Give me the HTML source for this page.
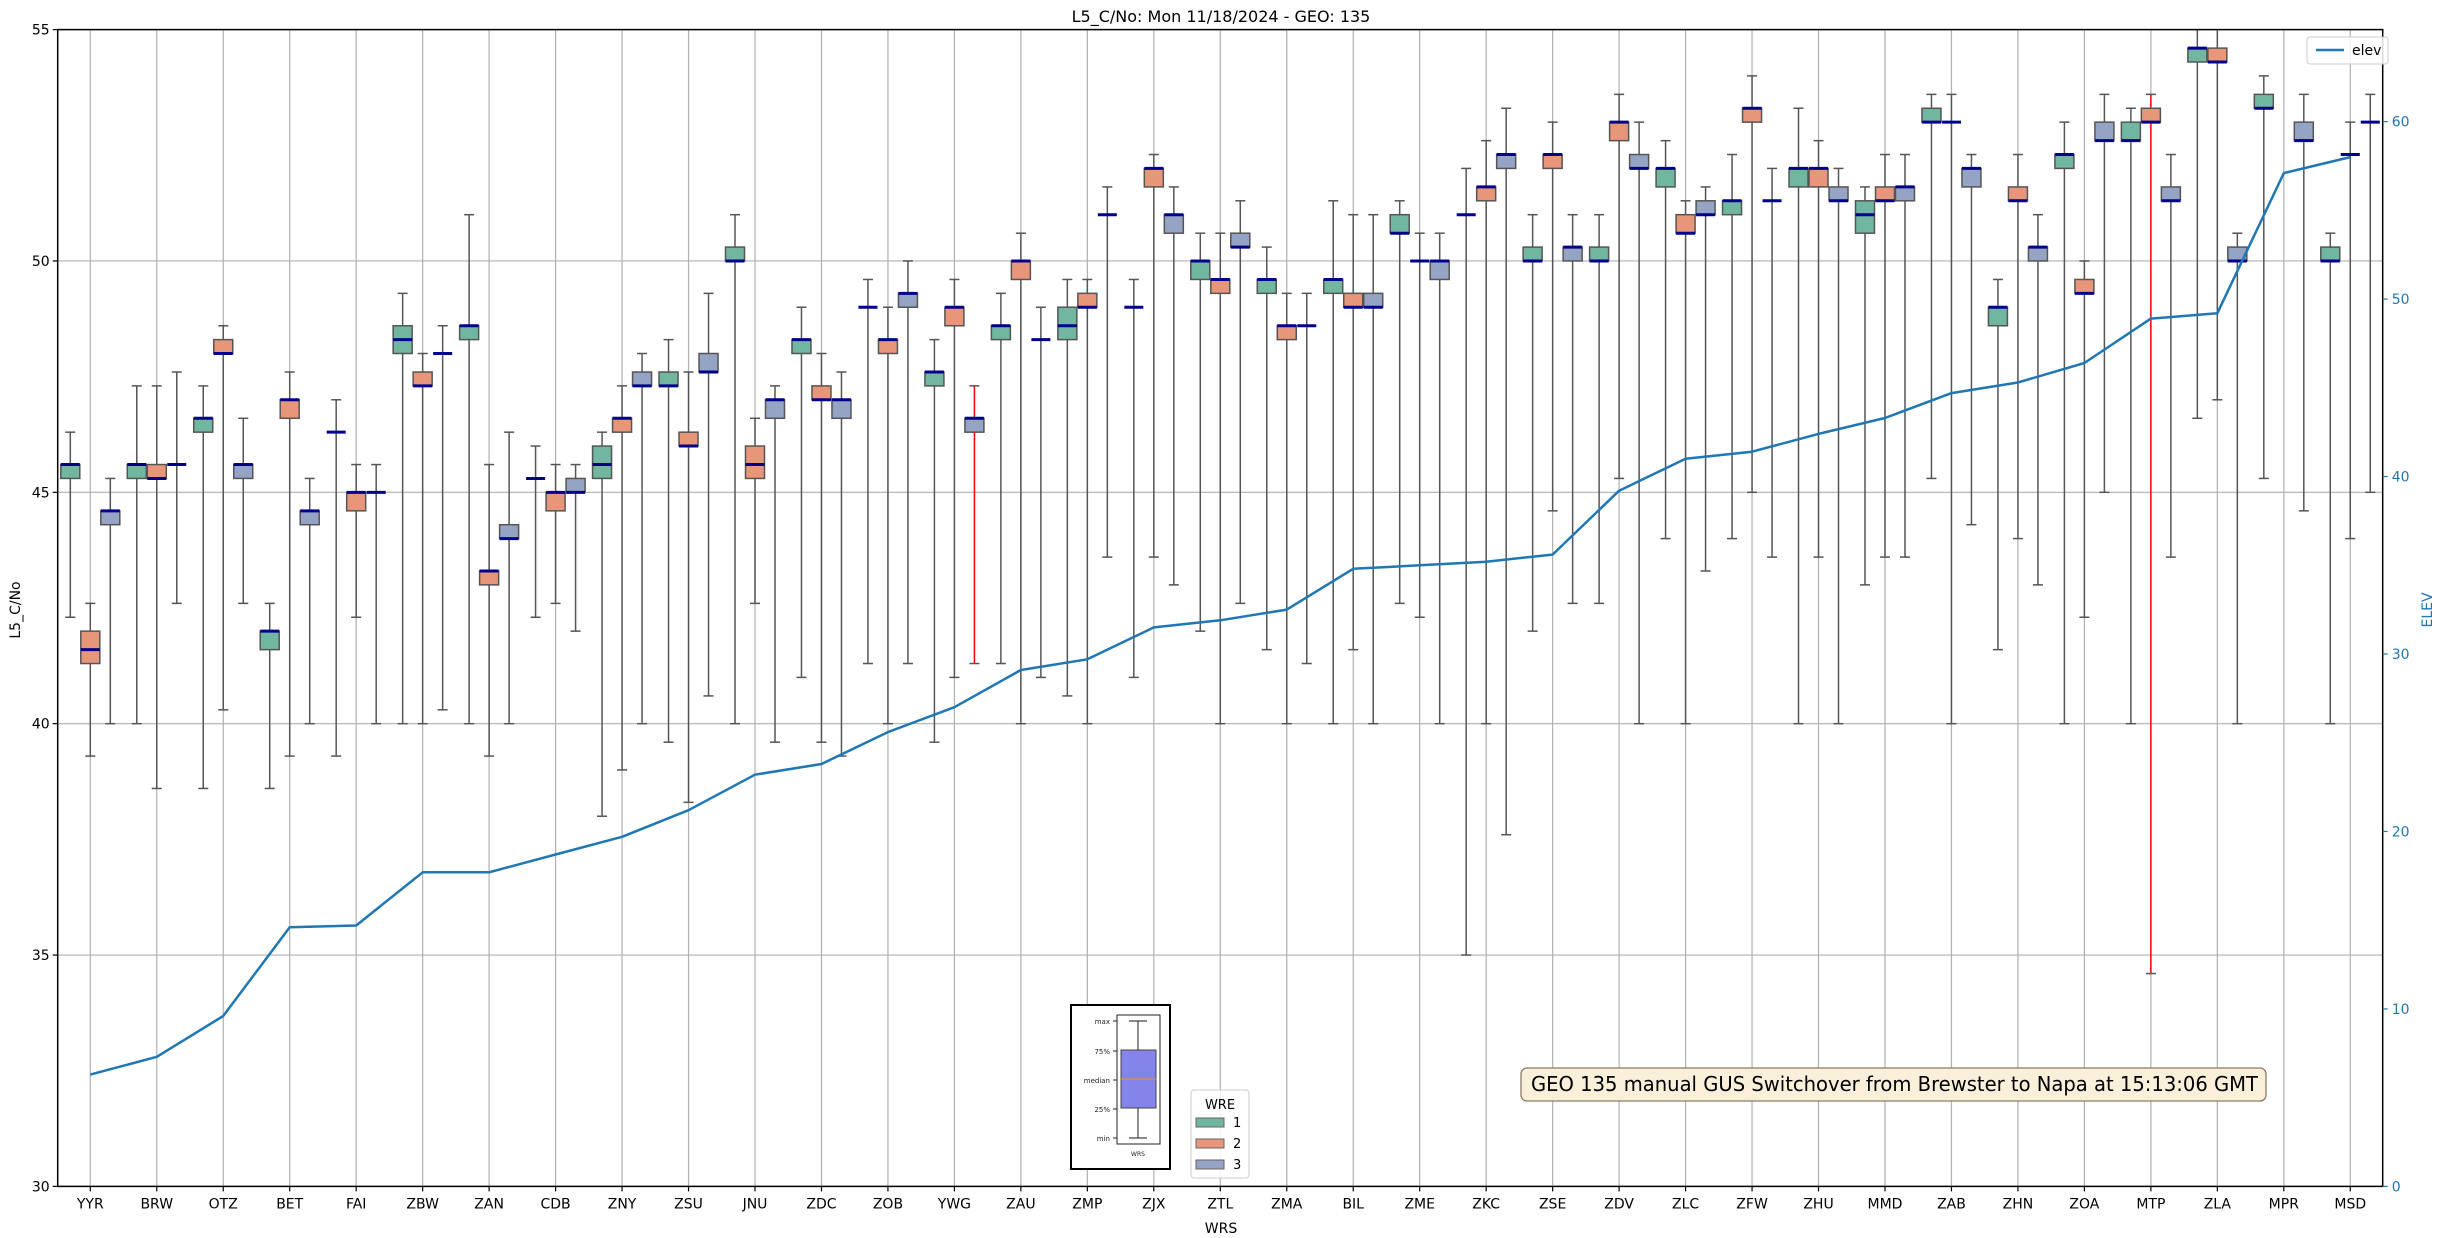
<!DOCTYPE html>
<html><head><meta charset="utf-8"><style>
html,body{margin:0;padding:0;background:#fff}
svg{display:block;font-family:"DejaVu Sans","Liberation Sans",sans-serif}
</style></head><body>
<svg id="chart" width="2439" height="1238" viewBox="0 0 2439 1238" xmlns="http://www.w3.org/2000/svg">
<rect width="2439" height="1238" fill="#fff"/>
<g id="grid"></g>
<g id="marks"></g>
<g id="elevg"></g>
<rect x="57.7" y="29.6" width="2325" height="1156.8" fill="none" stroke="#000" stroke-width="1.5"/>
<g id="axes"></g>
<text x="1221" y="22" font-size="16" text-anchor="middle">L5_C/No: Mon 11/18/2024 - GEO: 135</text>
<text x="1221" y="1233" font-size="14" text-anchor="middle">WRS</text>
<text x="0" y="0" font-size="14" text-anchor="middle" transform="translate(20,610) rotate(-90)">L5_C/No</text>
<text x="0" y="0" font-size="14" fill="#1f77b4" text-anchor="middle" transform="translate(2432,610) rotate(-90)">ELEV</text>
<g>
<rect x="2307" y="37" width="81" height="27" rx="3" fill="#fff" fill-opacity="0.85" stroke="#ccc"/>
<line x1="2316" y1="50" x2="2344" y2="50" stroke="#1f77b4" stroke-width="2.5"/>
<text x="2352" y="55" font-size="14">elev</text>
</g>
<g>
<rect x="1521" y="1068" width="745" height="33" rx="6" fill="#faefd9" stroke="#8a7a66" stroke-width="1.3"/>
<text x="1531" y="1091" font-size="20" textLength="727" lengthAdjust="spacingAndGlyphs">GEO 135 manual GUS Switchover from Brewster to Napa at 15:13:06 GMT</text>
</g>
<g>
<rect x="1071" y="1005" width="99" height="164" fill="#fff" stroke="#000" stroke-width="2"/>
<rect x="1117" y="1015" width="43" height="129" fill="#fff" stroke="#222" stroke-width="1"/>
<g font-size="7" text-anchor="end" fill="#222">
<text x="1110" y="1024">max</text><text x="1110" y="1054">75%</text><text x="1110" y="1083">median</text><text x="1110" y="1112">25%</text><text x="1110" y="1141">min</text>
</g>
<g stroke="#222" stroke-width="1"><line x1="1113" y1="1021" x2="1117" y2="1021"/><line x1="1113" y1="1051" x2="1117" y2="1051"/><line x1="1113" y1="1080" x2="1117" y2="1080"/><line x1="1113" y1="1109" x2="1117" y2="1109"/><line x1="1113" y1="1138" x2="1117" y2="1138"/></g>
<line x1="1138" y1="1021" x2="1138" y2="1138" stroke="#444" stroke-width="1.2"/>
<line x1="1129" y1="1021" x2="1147" y2="1021" stroke="#444" stroke-width="1.2"/>
<line x1="1129" y1="1138" x2="1147" y2="1138" stroke="#444" stroke-width="1.2"/>
<rect x="1121" y="1050" width="35" height="58" fill="#8484ea" stroke="#444" stroke-width="1"/>
<line x1="1121" y1="1079" x2="1156" y2="1079" stroke="#ff8c1a" stroke-width="1"/>
<text x="1138" y="1156" font-size="6" text-anchor="middle" fill="#222">WRS</text>
</g>
<g>
<rect x="1191" y="1090" width="58" height="88" rx="3" fill="#fff" fill-opacity="0.85" stroke="#ccc"/>
<text x="1220" y="1109" font-size="13" text-anchor="middle">WRE</text>
<rect x="1196" y="1118" width="28" height="9" fill="#70b6a0" stroke="#666"/>
<text x="1233" y="1127" font-size="13">1</text>
<rect x="1196" y="1139" width="28" height="9" fill="#e8967a" stroke="#666"/>
<text x="1233" y="1148" font-size="13">2</text>
<rect x="1196" y="1160" width="28" height="9" fill="#95a3c4" stroke="#666"/>
<text x="1233" y="1169" font-size="13">3</text>
</g>
</svg>
<script>
const categories = ["YYR","BRW","OTZ","BET","FAI","ZBW","ZAN","CDB","ZNY","ZSU","JNU","ZDC","ZOB","YWG","ZAU","ZMP","ZJX","ZTL","ZMA","BIL","ZME","ZKC","ZSE","ZDV","ZLC","ZFW","ZHU","MMD","ZAB","ZHN","ZOA","MTP","ZLA","MPR","MSD"];
const elev = [6.3,7.3,9.6,14.6,14.7,17.7,17.7,18.7,19.7,21.2,23.2,23.8,25.6,27.0,29.1,29.7,31.5,31.9,32.5,34.8,35.0,35.2,35.6,39.2,41.0,41.4,42.4,43.3,44.7,45.3,46.4,48.9,49.2,57.1,58.0];
const leftTicks = [30,35,40,45,50,55];
const rightTicks = [0,10,20,30,40,50,60];
// per WRE: [whiskerLow, q1, median, q3, whiskerHigh]
const wre1 = [[42.3,45.3,45.6,45.6,46.3],[40,45.3,45.6,45.6,47.3],[38.6,46.3,46.6,46.6,47.3],[38.6,41.6,42.0,42.0,42.6],[39.3,46.3,46.3,46.3,47.0],[40,48.0,48.3,48.6,49.3],[40,48.3,48.6,48.6,51.0],[42.3,45.3,45.3,45.3,46.0],[38.0,45.3,45.6,46.0,46.3],[39.6,47.3,47.3,47.6,48.3],[40,50.0,50.0,50.3,51.0],[41.0,48.0,48.3,48.3,49.0],[41.3,49.0,49.0,49.0,49.6],[39.6,47.3,47.6,47.6,48.3],[41.3,48.3,48.6,48.6,49.3],[40.6,48.3,48.6,49.0,49.6],[41.0,49.0,49.0,49.0,49.6],[42.0,49.6,50.0,50.0,50.6],[41.6,49.3,49.6,49.6,50.3],[40,49.3,49.6,49.6,51.3],[42.6,50.6,50.6,51.0,51.3],[35.0,51.0,51.0,51.0,52.0],[42.0,50.0,50.0,50.3,51.0],[42.6,50.0,50.0,50.3,51.0],[44.0,51.6,52.0,52.0,52.6],[44.0,51.0,51.3,51.3,52.3],[40,51.6,52.0,52.0,53.3],[43.0,50.6,51.0,51.3,51.6],[45.3,53.0,53.0,53.3,53.6],[41.6,48.6,49.0,49.0,49.6],[40,52.0,52.3,52.3,53.0],[40,52.6,52.6,53.0,53.3],[46.6,54.3,54.6,54.6,55.5],[45.3,53.3,53.3,53.6,54.0],[40,50.0,50.0,50.3,50.6]];
const wre2 = [[39.3,41.3,41.6,42.0,42.6],[38.6,45.3,45.3,45.6,47.3],[40.3,48.0,48.0,48.3,48.6],[39.3,46.6,47.0,47.0,47.6],[42.3,44.6,45.0,45.0,45.6],[40,47.3,47.3,47.6,48.0],[39.3,43.0,43.3,43.3,45.6],[42.6,44.6,45.0,45.0,45.6],[39.0,46.3,46.6,46.6,47.3],[38.3,46.0,46.0,46.3,47.6],[42.6,45.3,45.6,46.0,46.6],[39.6,47.0,47.0,47.3,48.0],[40,48.0,48.3,48.3,49.0],[41.0,48.6,49.0,49.0,49.6],[40,49.6,50.0,50.0,50.6],[40,49.0,49.0,49.3,49.6],[43.6,51.6,52.0,52.0,52.3],[40,49.3,49.6,49.6,50.6],[40,48.3,48.6,48.6,49.3],[41.6,49.0,49.0,49.3,51.0],[42.3,50.0,50.0,50.0,50.6],[40,51.3,51.6,51.6,52.6],[44.6,52.0,52.3,52.3,53.0],[45.3,52.6,53.0,53.0,53.6],[40,50.6,50.6,51.0,51.3],[45.0,53.0,53.3,53.3,54.0],[43.6,51.6,52.0,52.0,52.6],[43.6,51.3,51.3,51.6,52.3],[40,53.0,53.0,53.0,53.6],[44.0,51.3,51.3,51.6,52.3],[42.3,49.3,49.3,49.6,50.0],[34.6,53.0,53.0,53.3,53.6],[47.0,54.3,54.3,54.6,55.5],null,[44.0,52.3,52.3,52.3,53.0]];
const wre3 = [[40,44.3,44.6,44.6,45.3],[42.6,45.6,45.6,45.6,47.6],[42.6,45.3,45.6,45.6,46.6],[40,44.3,44.6,44.6,45.3],[40,45.0,45.0,45.0,45.6],[40.3,48.0,48.0,48.0,48.6],[40,44.0,44.0,44.3,46.3],[42.0,45.0,45.0,45.3,45.6],[40,47.3,47.3,47.6,48.0],[40.6,47.6,47.6,48.0,49.3],[39.6,46.6,47.0,47.0,47.3],[39.3,46.6,47.0,47.0,47.6],[41.3,49.0,49.3,49.3,50.0],[41.3,46.3,46.6,46.6,47.3],[41.0,48.3,48.3,48.3,49.0],[43.6,51.0,51.0,51.0,51.6],[43.0,50.6,51.0,51.0,51.6],[42.6,50.3,50.3,50.6,51.3],[41.3,48.6,48.6,48.6,49.3],[40,49.0,49.0,49.3,51.0],[40,49.6,50.0,50.0,50.6],[37.6,52.0,52.3,52.3,53.3],[42.6,50.0,50.3,50.3,51.0],[40,52.0,52.0,52.3,53.0],[43.3,51.0,51.0,51.3,51.6],[43.6,51.3,51.3,51.3,52.0],[40,51.3,51.3,51.6,52.0],[43.6,51.3,51.6,51.6,52.3],[44.3,51.6,52.0,52.0,52.3],[43.0,50.0,50.3,50.3,51.0],[45.0,52.6,52.6,53.0,53.6],[43.6,51.3,51.3,51.6,52.3],[40,50.0,50.0,50.3,50.6],[44.6,52.6,52.6,53.0,53.6],[45.0,53.0,53.0,53.0,53.6]];
const redWhiskers = [[2,31],[3,13]];

const NS="http://www.w3.org/2000/svg";
const X0=90.3, DX=66.47, PT=29.6, PB=1186.4, PL=57.7, PR=2382.7;
function xCat(i){return X0+DX*i;}
function yL(v){return PT+(55-v)*(PB-PT)/25;}
function yR(e){return PB-e*(PB-120)/60*0.9985;}
function cy(y){return Math.max(PT,Math.min(PB,y));}
function mk(tag,attrs,parent){const e=document.createElementNS(NS,tag);for(const k in attrs)e.setAttribute(k,attrs[k]);parent.appendChild(e);return e;}
const grid=document.getElementById('grid'), marks=document.getElementById('marks'), axes=document.getElementById('axes'), eg=document.getElementById('elevg');

leftTicks.forEach(v=>{
  const l=mk('line',{x1:PL,x2:PR,y1:yL(v),y2:yL(v),stroke:'#b0b0b0','stroke-width':1.2},grid);
  
  
  mk('line',{x1:PL-5,x2:PL,y1:yL(v),y2:yL(v),stroke:'#000','stroke-width':1.2},axes);
  const t=mk('text',{x:PL-8,y:yL(v)+5,'font-size':14,'text-anchor':'end'},axes);
  t.textContent=v;
  
  
});
rightTicks.forEach(v=>{
  mk('line',{x1:PR,x2:PR+5,y1:yR(v),y2:yR(v),stroke:'#1f77b4','stroke-width':1.2},axes);
  const t=mk('text',{x:PR+9,y:yR(v)+5,'font-size':14,fill:'#1f77b4'},axes);
  t.textContent=v;
  
  
});
categories.forEach((c,i)=>{
  const l=mk('line',{x1:xCat(i),x2:xCat(i),y1:PT,y2:PB,stroke:'#b0b0b0','stroke-width':1.2},grid);
  
  
  mk('line',{x1:xCat(i),x2:xCat(i),y1:PB,y2:PB+5,stroke:'#000','stroke-width':1.2},axes);
  const t=mk('text',{x:xCat(i),y:PB+22,'font-size':14,'text-anchor':'middle'},axes);
  t.textContent=c;
  
  
});
const groups=[wre1,wre2,wre3], fills=['#70b6a0','#e8967a','#95a3c4'];
groups.forEach((arr,g)=>{
  arr.forEach((d,i)=>{
    if(!d) return;
    const xc=xCat(i)+(g-1)*20, w=19;
    const red=redWhiskers.some(r=>r[0]===g+1&&r[1]===i);
    const wc=red?'#ff0000':'#555';
    const gg=mk('g',{},marks);
    
    
    mk('line',{x1:xc,x2:xc,y1:cy(yL(d[0])),y2:cy(yL(d[1])),stroke:wc,'stroke-width':1.5},gg);
    mk('line',{x1:xc,x2:xc,y1:cy(yL(d[3])),y2:cy(yL(d[4])),stroke:wc,'stroke-width':1.5},gg);
    [d[0],d[4]].forEach(v=>{ if(v<=55&&v>=30) mk('line',{x1:xc-5,x2:xc+5,y1:yL(v),y2:yL(v),stroke:'#555','stroke-width':1.5},gg);});
    if(d[3]>d[1]) mk('rect',{x:xc-w/2,y:yL(d[3]),width:w,height:yL(d[1])-yL(d[3]),fill:fills[g],stroke:'#555','stroke-width':1.5},gg);
    mk('line',{x1:xc-w/2,x2:xc+w/2,y1:yL(d[2]),y2:yL(d[2]),stroke:'#00008b','stroke-width':3},gg);
  });
});
const pts=elev.map((e,i)=>xCat(i).toFixed(1)+','+yR(e).toFixed(1)).join(' ');
const pl=mk('polyline',{points:pts,fill:'none',stroke:'#1f77b4','stroke-width':2.5,'stroke-linejoin':'round'},eg);


</script>
</body></html>
